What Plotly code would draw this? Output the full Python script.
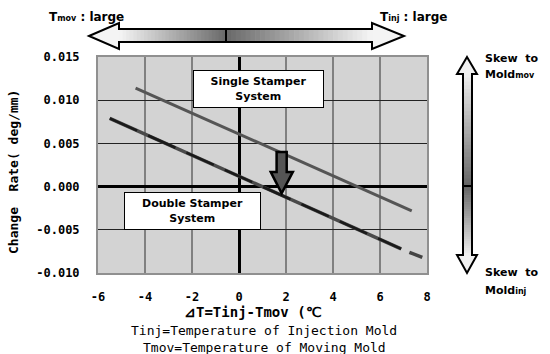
import plotly.graph_objects as go

# ---- data ----
single_x = [-4.4, 7.35]
single_y = [0.0114, -0.0028]
double_x = [-5.5, 6.9]
double_y = [0.0079, -0.0072]
double_tail_x = [7.25, 7.8]
double_tail_y = [-0.0076, -0.0082]
x_ticks = [-6, -4, -2, 0, 2, 4, 6, 8]
x_tick_labels = ["-6", "-4", "-2", "0", "2", "4", "6", "8"]
y_ticks = [-0.010, -0.005, 0.0, 0.005, 0.010, 0.015]
y_tick_labels = ["-0.010", "-0.005", "0.000", "0.005", "0.010", "0.015"]

W, H = 550, 354
L, R, T, B = 98, 427, 57, 273

def px(x):
    return (x - L) / (R - L)

def py(y):
    return (B - y) / (B - T)

fig = go.Figure()
fig.add_trace(go.Scatter(x=single_x, y=single_y, mode="lines",
                         line=dict(color="#555555", width=3), showlegend=False))
fig.add_trace(go.Scatter(x=double_x, y=double_y, mode="lines",
                         line=dict(color="#4a4a4a", width=3.5), showlegend=False))
fig.add_trace(go.Scatter(x=double_x, y=double_y, mode="lines",
                         line=dict(color="#1a1a1a", width=2.5, dash="30px,12px"), showlegend=False))
fig.add_trace(go.Scatter(x=double_tail_x, y=double_tail_y, mode="lines",
                         line=dict(color="#444444", width=3.5), showlegend=False))

shapes = []

def gray(v):
    v = int(round(v))
    return f"rgb({v},{v},{v})"

# ---- top horizontal gradient arrow ----
tipL, tipR = 89, 404
headL, headR = 119, 372
bt, bb = 29, 42
ht, hb = 23, 49
cy = 36
mid = 226
outline_h = (f"M {px(tipL)} {py(cy)} L {px(headL)} {py(ht)} L {px(headL)} {py(bt)} "
             f"L {px(headR)} {py(bt)} L {px(headR)} {py(ht)} L {px(tipR)} {py(cy)} "
             f"L {px(headR)} {py(hb)} L {px(headR)} {py(bb)} L {px(headL)} {py(bb)} "
             f"L {px(headL)} {py(hb)} Z")
shapes.append(dict(type="path", xref="paper", yref="paper", path=outline_h,
                   fillcolor="#f4f4f4", line=dict(width=0)))
n = 30
for i in range(n):
    x0 = headL + (mid - headL) * i / n
    x1 = headL + (mid - headL) * (i + 1) / n
    c = 245 - (245 - 105) * (i + 0.5) / n
    shapes.append(dict(type="rect", xref="paper", yref="paper", x0=px(x0), x1=px(x1) + 0.002,
                       y0=py(bb), y1=py(bt), fillcolor=gray(c), line=dict(width=0)))
    x0 = mid + (headR - mid) * i / n
    x1 = mid + (headR - mid) * (i + 1) / n
    c = 105 + (245 - 105) * (i + 0.5) / n
    shapes.append(dict(type="rect", xref="paper", yref="paper", x0=px(x0), x1=px(x1) + 0.002,
                       y0=py(bb), y1=py(bt), fillcolor=gray(c), line=dict(width=0)))
shapes.append(dict(type="path", xref="paper", yref="paper", path=outline_h,
                   fillcolor="rgba(0,0,0,0)", line=dict(color="black", width=2)))
shapes.append(dict(type="line", xref="paper", yref="paper", x0=px(mid), x1=px(mid),
                   y0=py(bb), y1=py(bt), line=dict(color="black", width=2)))

# ---- right vertical gradient arrow ----
vc = 467
vbl, vbr = 463, 472
vhl, vhr = 457, 477
vtop, vbot = 57, 273
vht, vhb = 74, 255
vmid = 186
outline_v = (f"M {px(vc)} {py(vtop)} L {px(vhr)} {py(vht)} L {px(vbr)} {py(vht)} "
             f"L {px(vbr)} {py(vhb)} L {px(vhr)} {py(vhb)} L {px(vc)} {py(vbot)} "
             f"L {px(vhl)} {py(vhb)} L {px(vbl)} {py(vhb)} L {px(vbl)} {py(vht)} "
             f"L {px(vhl)} {py(vht)} Z")
shapes.append(dict(type="path", xref="paper", yref="paper", path=outline_v,
                   fillcolor="#f0f0f0", line=dict(width=0)))
for i in range(n):
    y0 = vht + (vmid - vht) * i / n
    y1 = vht + (vmid - vht) * (i + 1) / n
    c = 240 - (240 - 100) * (i + 0.5) / n
    shapes.append(dict(type="rect", xref="paper", yref="paper", x0=px(vbl), x1=px(vbr),
                       y0=py(y1) - 0.003, y1=py(y0), fillcolor=gray(c), line=dict(width=0)))
    y0 = vmid + (vhb - vmid) * i / n
    y1 = vmid + (vhb - vmid) * (i + 1) / n
    c = 100 + (240 - 100) * (i + 0.5) / n
    shapes.append(dict(type="rect", xref="paper", yref="paper", x0=px(vbl), x1=px(vbr),
                       y0=py(y1) - 0.003, y1=py(y0), fillcolor=gray(c), line=dict(width=0)))
shapes.append(dict(type="path", xref="paper", yref="paper", path=outline_v,
                   fillcolor="rgba(0,0,0,0)", line=dict(color="black", width=2)))
shapes.append(dict(type="line", xref="paper", yref="paper", x0=px(vbl), x1=px(vbr),
                   y0=py(vmid), y1=py(vmid), line=dict(color="black", width=2)))

# ---- down arrow inside plot (data coordinates) ----
ax0, ax1 = 1.60, 2.03
ahl, ahr = 1.35, 2.29
atop, abase, atip = 0.0040, 0.0017, -0.00078
acx = (ax0 + ax1) / 2
down_path = (f"M {ax0} {atop} L {ax1} {atop} L {ax1} {abase} L {ahr} {abase} "
             f"L {acx} {atip} L {ahl} {abase} L {ax0} {abase} Z")
shapes.append(dict(type="path", xref="x", yref="y", path=down_path,
                   fillcolor="#555555", line=dict(color="black", width=2.5)))

fig.update_layout(shapes=shapes)

bold = dict(family="DejaVu Sans", size=11, color="black", weight="bold")
bold12 = dict(family="DejaVu Sans", size=12, color="black", weight="bold")
mono_b = dict(family="DejaVu Sans Mono", size=12, color="black", weight="bold")
small = "<span style='font-size:8px'>"

annotations = [
    dict(x=px(47), y=py(17), xref="paper", yref="paper", xanchor="left", yanchor="middle",
         text=f"T{small}mov</span> : large", showarrow=False, font=bold12),
    dict(x=px(378), y=py(17), xref="paper", yref="paper", xanchor="left", yanchor="middle",
         text=f"T{small}inj</span> : large", showarrow=False, font=bold12),
    dict(x=px(483), y=py(58), xref="paper", yref="paper", xanchor="left", yanchor="middle",
         text="Skew  to", showarrow=False, font=bold),
    dict(x=px(483), y=py(74), xref="paper", yref="paper", xanchor="left", yanchor="middle",
         text=f"Mold{small}mov</span>", showarrow=False, font=bold),
    dict(x=px(483), y=py(272), xref="paper", yref="paper", xanchor="left", yanchor="middle",
         text="Skew  to", showarrow=False, font=bold),
    dict(x=px(483), y=py(290), xref="paper", yref="paper", xanchor="left", yanchor="middle",
         text=f"Mold{small}inj</span>", showarrow=False, font=bold),
    dict(x=px(253), y=py(312), xref="paper", yref="paper", xanchor="center", yanchor="middle",
         text="⊿T=Tinj-Tmov (℃", showarrow=False,
         font=dict(family="DejaVu Sans Mono", size=14, color="black", weight="bold")),
    dict(x=px(264), y=py(330), xref="paper", yref="paper", xanchor="center", yanchor="middle",
         text="Tinj=Temperature of Injection Mold", showarrow=False,
         font=dict(family="DejaVu Sans Mono", size=13, color="black")),
    dict(x=px(264), y=py(347), xref="paper", yref="paper", xanchor="center", yanchor="middle",
         text="Tmov=Temperature of Moving Mold", showarrow=False,
         font=dict(family="DejaVu Sans Mono", size=13, color="black")),
    dict(x=px(13), y=py(172), xref="paper", yref="paper", xanchor="center", yanchor="middle",
         text="Change  Rate( deg/mm)", textangle=-90, showarrow=False,
         font=dict(family="DejaVu Sans Mono", size=13, color="black", weight="bold")),
    dict(x=0.83, y=0.01135, xref="x", yref="y", xanchor="center", yanchor="middle",
         text="Single Stamper<br>System", showarrow=False, font=bold,
         bgcolor="white", bordercolor="black", borderwidth=1, width=127, height=34, borderpad=1),
    dict(x=-1.98, y=-0.00277, xref="x", yref="y", xanchor="center", yanchor="middle",
         text="Double Stamper<br>System", showarrow=False, font=bold,
         bgcolor="white", bordercolor="black", borderwidth=1, width=133, height=34, borderpad=1),
]
fig.update_layout(annotations=annotations)

fig.update_xaxes(range=[-6, 8], tickvals=x_ticks, ticktext=x_tick_labels,
                 showgrid=True, gridcolor="#808080", gridwidth=1.5,
                 zeroline=True, zerolinecolor="black", zerolinewidth=3,
                 showline=True, linecolor="#909090", linewidth=2, mirror=True,
                 ticks="", ticklabelstandoff=12, tickfont=mono_b)
fig.update_yaxes(range=[-0.010, 0.015], tickvals=y_ticks, ticktext=y_tick_labels,
                 showgrid=True, gridcolor="#222222", gridwidth=1,
                 zeroline=True, zerolinecolor="black", zerolinewidth=3,
                 showline=True, linecolor="#909090", linewidth=2, mirror=True,
                 ticks="", ticklabelstandoff=14, tickfont=mono_b)

fig.update_layout(width=W, height=H, margin=dict(l=L, r=W - R, t=T, b=H - B),
                  plot_bgcolor="#d3d3d3", paper_bgcolor="white", showlegend=False)

fig.write_html("out.html")
